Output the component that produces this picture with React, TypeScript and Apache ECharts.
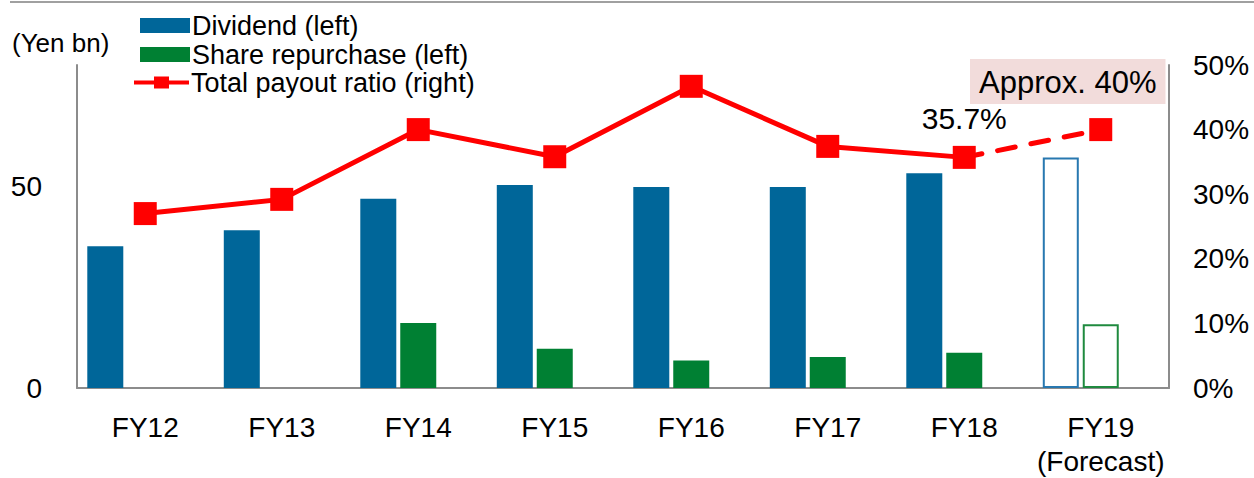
import React, { useEffect, useRef } from "react";
import * as echarts from "echarts";

const categories = ["FY12", "FY13", "FY14", "FY15", "FY16", "FY17", "FY18", "FY19\n(Forecast)"];
const dividend = [35.1, 39.1, 46.9, 50.3, 49.8, 49.8, 53.2, 57.1];
const buyback = [null, null, 16.1, 9.7, 6.8, 7.7, 8.7, 15.8];
const payoutActual = [27.0, 29.2, 40.0, 35.8, 46.7, 37.4, 35.7, null];
const payoutForecast = [null, null, null, null, null, null, 35.7, 40.0];
const leftTicks = [0, 50];
const forecastIndex = 7;

const FONT = "'Liberation Sans', Arial, sans-serif";
const BLUE = "#006699";
const GREEN = "#008033";
const RED = "#FF0000";
const GRAY = "#8c8c8c";
const LINE_ICON = "path://M0,5 L55,5 L55,9 L0,9 Z M20,1 L35,1 L35,13 L20,13 Z";

export default function App() {
  const ref = useRef<HTMLDivElement>(null);
  useEffect(() => {
    if (!ref.current) return;
    const chart = echarts.init(ref.current, null, { renderer: "svg" });
    const legendText = { fontFamily: FONT, fontSize: 27, lineHeight: 26, color: "#000", padding: [0, 0, 0, -3] };
    const option: any = {
      animation: false,
      backgroundColor: "#fff",
      textStyle: { fontFamily: FONT },
      grid: { left: 77, right: 85, top: 65, bottom: 86 },
      legend: [
        { data: ["Dividend (left)"], icon: "rect", left: 140, top: 12, padding: 0, itemWidth: 50, itemHeight: 15, textStyle: legendText, selectedMode: false },
        { data: ["Share repurchase (left)"], icon: "rect", left: 140, top: 41, padding: 0, itemWidth: 50, itemHeight: 15, textStyle: legendText, selectedMode: false },
        { data: ["Total payout ratio (right)"], icon: LINE_ICON, left: 134, top: 69, padding: 0, itemWidth: 55, itemHeight: 13, textStyle: legendText, selectedMode: false },
      ],
      graphic: [
        { type: "line", shape: { x1: 10, y1: 2, x2: 1254, y2: 2 }, style: { stroke: "#a0a0a0", lineWidth: 2 } },
        { type: "text", left: 12, top: 30, style: { text: "(Yen bn)", fontFamily: FONT, fontSize: 26, fill: "#000" } },
      ],
      xAxis: {
        type: "category",
        data: categories,
        axisTick: { show: false },
        axisLine: { show: true, lineStyle: { color: GRAY, width: 2 } },
        axisLabel: { fontFamily: FONT, fontSize: 28, color: "#000", margin: 22, lineHeight: 34, interval: 0 },
      },
      yAxis: [
        {
          type: "value",
          min: 0,
          max: 80,
          interval: 50,
          splitLine: { show: false },
          axisTick: { show: false },
          axisLine: { show: true, lineStyle: { color: GRAY, width: 2 } },
          axisLabel: {
            fontFamily: FONT,
            fontSize: 28,
            color: "#000",
            margin: 35,
            formatter: (v: number) => (leftTicks.includes(v) ? String(v) : ""),
          },
        },
        {
          type: "value",
          min: 0,
          max: 50,
          interval: 10,
          splitLine: { show: false },
          axisTick: { show: false },
          axisLine: { show: true, lineStyle: { color: GRAY, width: 2 } },
          axisLabel: { fontFamily: FONT, fontSize: 28, color: "#000", margin: 24, formatter: "{value}%" },
        },
      ],
      series: [
        {
          name: "Dividend (left)",
          type: "bar",
          barWidth: 36,
          barGap: "11%",
          itemStyle: { color: BLUE },
          data: dividend.map((v, i) =>
            i === forecastIndex
              ? { value: v, itemStyle: { color: "#fff", borderColor: "#2878b0", borderWidth: 2 } }
              : v
          ),
        },
        {
          name: "Share repurchase (left)",
          type: "bar",
          barWidth: 36,
          barGap: "11%",
          itemStyle: { color: GREEN },
          data: buyback.map((v, i) =>
            i === forecastIndex
              ? { value: v, itemStyle: { color: "#fff", borderColor: "#1f8a3f", borderWidth: 2 } }
              : v
          ),
        },
        {
          name: "spacer",
          type: "bar",
          barWidth: 36,
          barGap: "11%",
          data: categories.map(() => null),
        },
        {
          name: "Total payout ratio (right)",
          type: "line",
          yAxisIndex: 1,
          symbol: "rect",
          symbolSize: 23,
          itemStyle: { color: RED },
          lineStyle: { color: RED, width: 5 },
          z: 5,
          data: payoutActual.map((v, i) =>
            i === 6
              ? {
                  value: v,
                  label: {
                    show: true,
                    position: "top",
                    distance: 12,
                    formatter: "{c}%",
                    fontFamily: FONT,
                    fontSize: 30,
                    color: "#000",
                  },
                }
              : v
          ),
        },
        {
          name: "forecast",
          type: "line",
          yAxisIndex: 1,
          symbol: "rect",
          symbolSize: 23,
          itemStyle: { color: RED },
          lineStyle: { color: RED, width: 5, type: [18, 16], cap: "round" },
          z: 4,
          data: payoutForecast.map((v, i) =>
            i === forecastIndex
              ? {
                  value: v,
                  label: {
                    show: true,
                    position: "top",
                    distance: 14,
                    offset: [-33, 0],
                    formatter: "Approx. {c}%",
                    fontFamily: FONT,
                    fontSize: 31,
                    color: "#000",
                    backgroundColor: "#F2DCDB",
                    padding: [8, 9, 6, 9],
                  },
                }
              : i === 6
              ? { value: v, symbol: "none" }
              : v
          ),
        },
      ],
    };
    chart.setOption(option);
    return () => chart.dispose();
  }, []);
  return (
    <div
      ref={ref}
      style={{ position: "fixed", left: 0, top: 0, width: 1254, height: 478, background: "#fff" }}
    />
  );
}
